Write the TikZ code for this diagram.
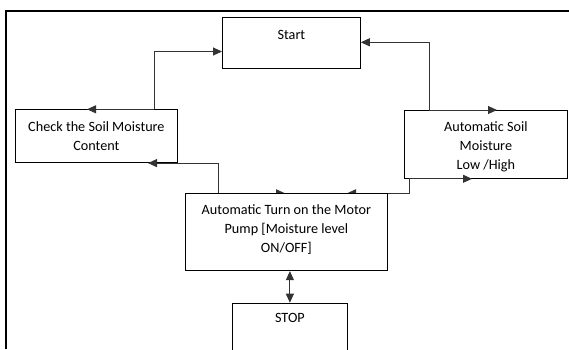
\documentclass[tikz,border=0pt]{standalone}
\usepackage{fontspec}
\setmainfont{Carlito}
\usetikzlibrary{positioning, calc, arrows.meta, backgrounds}

\tikzset{
  box/.style={draw=black, fill=white, line width=0.8pt, anchor=north west, inner sep=0pt},
  txt/.style={anchor=north, align=center, inner sep=0pt, font=\fontsize{14.2}{19}\selectfont},
  conn/.style={draw=black!80, line width=0.9pt, ->},
}

\begin{document}
\begin{tikzpicture}[x=1pt,y=-1pt,>={Triangle[length=9pt,width=8pt]}]
		\useasboundingbox (0,0) rectangle (569,349);
		\clip (0,0) rectangle (569,349);
		\draw[line width=2pt] (5.5,349)--(5.5,11)--(569,11); %frame
		% boxes
		\node[box, minimum width=138pt, minimum height=51pt] (start) at (222,17.3) {};
		\node[box, minimum width=162pt, minimum height=53pt] (check) at (15,109.3) {};
		\node[box, minimum width=163pt, minimum height=68pt] (auto) at (404,110) {};
		\node[box, minimum width=202pt, minimum height=77pt] (motor) at (185,193.3) {};
		\node[box, minimum width=115pt, minimum height=60pt] (stop) at (232,302.7) {};
		% texts
		\node[txt, below=13pt of start.north] (starttxt) {Start};
		\node[txt, below=12pt of check.north] (checktxt) {Check the Soil Moisture\\Content};
		\node[txt, below=11.5pt of auto.north] (autotxt) {Automatic Soil\\Moisture\\Low /High};
		\node[txt, below=11.5pt of motor.north] (motortxt) {Automatic Turn on the Motor\\Pump [Moisture level\\ON/OFF]};
		\node[txt, below=10.5pt of stop.north] (stoptxt) {STOP};
		% connectors
		\coordinate (cup) at ($(check.north west)+(139,0)$);
		\coordinate (aup) at ($(auto.north west)+(25,0)$);
		\coordinate (mleft) at ($(motor.north west)+(33,0)$);
		\coordinate (aleft) at ($(auto.south west)+(5,0)$);
		\draw[conn] (cup) |- ($(start.south west)+(0,-17.6)$);
		\draw[conn] (cup) -- ($(check.north west)+(72,0)$);
		\draw[conn] (aup) |- ($(start.north east)+(0,25)$);
		\draw[conn] (aup) -- ($(auto.north west)+(93,0)$);
		\draw[conn] (mleft) |- ($(check.south west)+(133,0)$);
		\draw[conn] (aleft) -- ($(auto.south west)+(68,0)$);
		\begin{pgfonlayer}{background}
			\draw[conn] (mleft) -- ($(motor.north west)+(100,0)$);
			\draw[conn] (aleft) |- ($(motor.north west)+(162,0)$);
		\end{pgfonlayer}
		\draw[conn, <->] (motor.south -| stop.north) -- (stop.north);
	\end{tikzpicture}
\end{document}
